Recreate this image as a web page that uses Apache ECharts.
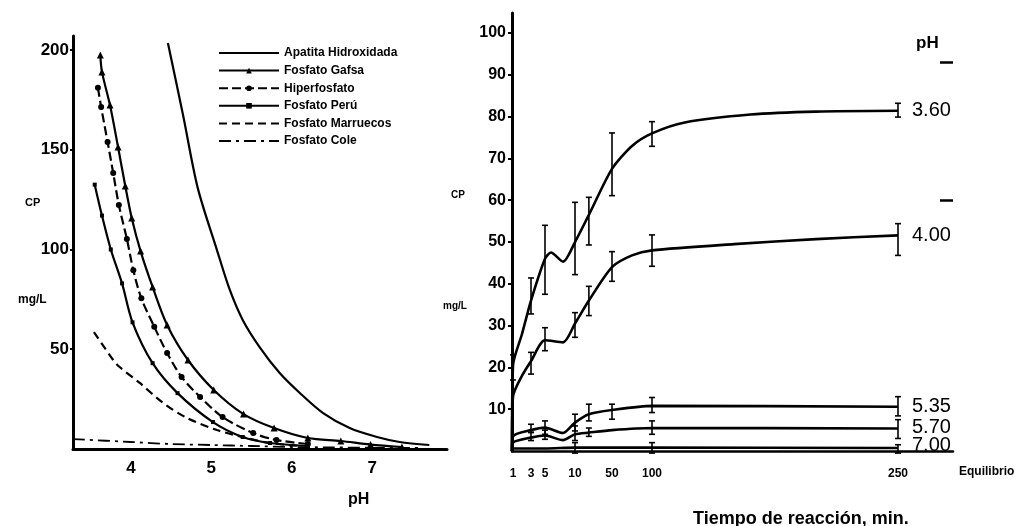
<!DOCTYPE html>
<html><head><meta charset="utf-8">
<script src="https://cdn.jsdelivr.net/npm/echarts@6/dist/echarts.min.js"></script>
<style>html,body{margin:0;padding:0;background:#fff}#c{width:1019px;height:526px}</style>
</head><body><div id="c"></div>
<script>
// ---------------- Left panel: CP (mg/L) vs pH ----------------
const phTicks = [4, 5, 6, 7];
const cpTicksLeft = [50, 100, 150, 200];
const apatitaHidroxidada = [[4.46,203.5],[4.65,167],[4.83,131],[5.07,99.7],[5.23,79.7],[5.39,64.7],[5.60,51.1],[5.85,38.1],[6.10,28.1],[6.39,18],[6.72,10.5],[7.06,6],[7.34,3.5],[7.71,2]];
const fosfatoGafsa = [[3.62,197.5],[3.64,189],[3.74,172.4],[3.84,151.4],[3.93,131.8],[4.01,115.8],[4.12,99.2],[4.27,81.2],[4.45,62.2],[4.71,44.6],[5.03,29.6],[5.40,17.5],[5.78,10.5],[6.20,5.5],[6.61,4],[6.98,2.2],[7.37,1]];
const hiperfosfato = [[3.59,181],[3.63,171.4],[3.71,153.9],[3.78,138.3],[3.85,122.3],[3.95,105.3],[4.03,89.6],[4.13,75.5],[4.29,61.3],[4.45,48.1],[4.63,36.1],[4.86,26.1],[5.14,16],[5.52,8],[5.81,4.5],[6.2,2.5]];
const fosfatoPeru = [[3.55,132.5],[3.64,117],[3.75,100],[3.89,83],[4.02,63.5],[4.27,43],[4.58,28],[5.02,13.5],[5.39,6],[5.73,3],[6.2,1.5]];
const fosfatoMarruecos = [[3.54,58.6],[3.78,44.6],[3.86,41.1],[4.11,33.1],[4.40,23.1],[4.70,15.5],[5.07,9.5],[5.44,5.5],[5.73,3],[6.1,1.5]];
const fosfatoCole = [[3.28,5],[4.0,3.5],[4.5,2.5],[5.0,2],[5.5,1.5],[6.0,1],[6.5,0.8],[7.0,0.6],[7.6,0.5]];

// ---------------- Right panel: CP (mg/L) vs reaction time ----------------
const timeTicks = [1, 3, 5, 10, 50, 100, 250];
const cpTicksRight = [10, 20, 30, 40, 50, 60, 70, 80, 90, 100];
const ph360 = [[0,0],[1,20.5],[2,28],[3,36],[5,46],[6,47.5],[8,45.3],[10,50],[25,56.5],[50,67.5],[75,73],[100,76],[120,78.6],[160,80.5],[200,81.2],[250,81.4]];
const ph400 = [[0,0],[1,13],[2,18],[3,21.5],[5,26.5],[8,26],[10,30.5],[25,36],[50,44],[75,46.8],[100,48],[150,49.5],[200,50.7],[250,51.6]];
const ph535 = [[0,0],[1,3.5],[3,5],[5,5.6],[8,4.3],[10,6.8],[25,8.8],[50,9.8],[100,10.8],[250,10.6]];
const ph570 = [[0,0],[1,2],[3,3.2],[5,3.7],[8,2.6],[10,4],[25,4.4],[50,5],[100,5.5],[250,5.4]];
const ph700 = [[0,0],[1,0.6],[3,0.6],[5,0.6],[10,0.8],[25,0.8],[50,0.8],[100,0.8],[250,0.7]];
const err360 = [[1,17,23],[3,32.8,41.4],[5,37.5,54],[10,42.2,59.5],[25,49.3,60.7],[50,61.1,76.1],[100,72.9,78.8],[250,79.9,83.2]];
const err400 = [[3,18.4,23.6],[5,24,29.5],[10,27.2,33.1],[25,32.4,39.4],[50,40.6,47.7],[100,44.2,51.7],[250,46.8,54.4]];
const err535 = [[3,4.4,6.4],[5,4,7.2],[10,4.8,8.8],[25,7.2,11.2],[50,7.6,11.2],[100,9.2,12.8],[250,8.4,13]];
const err570 = [[3,2.5,4.5],[5,2.8,5],[10,2.5,6],[25,3.5,5.5],[100,4,7.2],[250,3,7.5]];
const err700 = [[10,-0.5,2],[100,-0.5,2],[250,-0.5,1.5]];
const equilibriumCP = [93, 60];

// hand-drawn (non-uniform) time axis of the original: piecewise-linear scale
const timeDomain = [0, 1, 3, 5, 10, 50, 100, 250];
const timeRange  = [0, 1, 19, 33, 63, 100, 140, 386];
function tx(t) {
  for (let i = 1; i < timeDomain.length; i++) {
    if (t <= timeDomain[i]) {
      const f = (t - timeDomain[i-1]) / (timeDomain[i] - timeDomain[i-1]);
      return timeRange[i-1] + f * (timeRange[i] - timeRange[i-1]);
    }
  }
  return timeRange[timeRange.length-1];
}
const tickLabelMap = {};
timeTicks.forEach(t => { tickLabelMap[tx(t).toFixed(3)] = String(t); });

const FONT = 'Liberation Sans';
const K = '#000';

function errRender(params, api) {
  const x = api.value(0), lo = api.value(1), hi = api.value(2);
  const p1 = api.coord([x, lo]), p2 = api.coord([x, hi]);
  const w = 3, st = {stroke: K, lineWidth: 1.6};
  return {type: 'group', children: [
    {type: 'line', shape: {x1: p1[0], y1: p1[1], x2: p2[0], y2: p2[1]}, style: st},
    {type: 'line', shape: {x1: p1[0]-w, y1: p1[1], x2: p1[0]+w, y2: p1[1]}, style: st},
    {type: 'line', shape: {x1: p2[0]-w, y1: p2[1], x2: p2[0]+w, y2: p2[1]}, style: st}
  ]};
}
function errSeries(arr) {
  return {type: 'custom', xAxisIndex: 1, yAxisIndex: 1, renderItem: errRender,
    data: arr.map(d => [tx(d[0]), d[1], d[2]]), silent: true, z: 3};
}
function endLbl(dy) {
  return {show: true, formatter: '{a}', distance: 14, fontSize: 20, color: K, fontFamily: FONT, offset: [0, dy || 0]};
}
function curve(name, arr, dy) {
  return {type: 'line', name, xAxisIndex: 1, yAxisIndex: 1, smooth: 0.25,
    showSymbol: false, data: arr.map(d => [tx(d[0]), d[1]]),
    lineStyle: {color: K, width: 2.6}, endLabel: endLbl(dy)};
}
function leftLine(name, data, lineType, symbol, size, width) {
  return {type: 'line', name, xAxisIndex: 0, yAxisIndex: 0, data, smooth: 0.3,
    showSymbol: symbol !== 'none', symbol, symbolSize: size,
    itemStyle: {color: K}, lineStyle: {color: K, width: width || 2.2, type: lineType}};
}

const chart = echarts.init(document.getElementById('c'), null, {renderer: 'canvas'});
chart.setOption({
  animation: false,
  backgroundColor: '#fff',
  textStyle: {fontFamily: FONT, color: K},
  title: [
    {text: 'CP', left: 20, top: 192, textStyle: {fontSize: 11, fontWeight: 'bold', color: K, fontFamily: FONT}},
    {text: 'mg/L', left: 13, top: 289, textStyle: {fontSize: 12, fontWeight: 'bold', color: K, fontFamily: FONT}},
    {text: 'pH', left: 343, top: 487, textStyle: {fontSize: 16, fontWeight: 'bold', color: K, fontFamily: FONT}},
    {text: 'CP', left: 446, top: 185, textStyle: {fontSize: 10, fontWeight: 'bold', color: K, fontFamily: FONT}},
    {text: 'mg/L', left: 438, top: 296, textStyle: {fontSize: 10, fontWeight: 'bold', color: K, fontFamily: FONT}},
    {text: 'pH', left: 911, top: 30, textStyle: {fontSize: 17, fontWeight: 'bold', color: K, fontFamily: FONT}},
    {text: 'Tiempo de reacción, min.', left: 688, top: 505, textStyle: {fontSize: 18, fontWeight: 'bold', color: K, fontFamily: FONT}}
  ],
  legend: {
    orient: 'vertical', left: 213, top: 42, itemWidth: 60, itemHeight: 7, itemGap: 5.6,
    textStyle: {fontSize: 12, fontWeight: 'bold', color: K, fontFamily: FONT},
    data: [
      {name: 'Apatita Hidroxidada', itemStyle: {opacity: 0}},
      {name: 'Fosfato Gafsa'},
      {name: 'Hiperfosfato'},
      {name: 'Fosfato Perú'},
      {name: 'Fosfato Marruecos', itemStyle: {opacity: 0}},
      {name: 'Fosfato Cole', itemStyle: {opacity: 0}}
    ]
  },
  grid: [
    {left: 73, top: 36, width: 374, height: 413, containLabel: false},
    {left: 512, top: 13, width: 441, height: 438, containLabel: false}
  ],
  xAxis: [
    {gridIndex: 0, type: 'value', min: 3.28, max: 7.93,
      axisLine: {lineStyle: {color: K, width: 3}}, axisTick: {show: false},
      splitLine: {show: false},
      axisLabel: {customValues: phTicks, fontSize: 17, fontWeight: 'bold', color: K, margin: 11, fontFamily: FONT}},
    {gridIndex: 1, type: 'value', min: 0, max: 441,
      axisLine: {lineStyle: {color: K, width: 2.5}}, axisTick: {show: false},
      splitLine: {show: false},
      axisLabel: {customValues: timeTicks.map(tx), fontSize: 12, fontWeight: 'bold', color: K, margin: 17, fontFamily: FONT,
        formatter: v => tickLabelMap[Number(v).toFixed(3)] || ''},
      name: 'Equilibrio', nameLocation: 'end', nameGap: 6,
      nameTextStyle: {fontSize: 12, fontWeight: 'bold', color: K, verticalAlign: 'top', padding: [15, 0, 0, 0], fontFamily: FONT}}
  ],
  yAxis: [
    {gridIndex: 0, type: 'value', min: 0, max: 207,
      axisLine: {lineStyle: {color: K, width: 3}},
      axisTick: {customValues: cpTicksLeft, length: 3, lineStyle: {color: K, width: 2}},
      splitLine: {show: false},
      axisLabel: {customValues: cpTicksLeft, fontSize: 17, fontWeight: 'bold', color: K, margin: 4, fontFamily: FONT}},
    {gridIndex: 1, type: 'value', min: 0, max: 104.8,
      axisLine: {lineStyle: {color: K, width: 3}},
      axisTick: {customValues: cpTicksRight, length: 4, lineStyle: {color: K, width: 2}},
      splitLine: {show: false},
      axisLabel: {customValues: cpTicksRight, fontSize: 16, fontWeight: 'bold', color: K, margin: 6, fontFamily: FONT}},
    {gridIndex: 1, type: 'value', min: 0, max: 104.8, position: 'right',
      axisLine: {show: false}, axisLabel: {show: false}, splitLine: {show: false},
      axisTick: {show: true, inside: true, length: 13, customValues: equilibriumCP, lineStyle: {color: K, width: 2.5}}}
  ],
  series: [
    leftLine('Apatita Hidroxidada', apatitaHidroxidada, 'solid', 'none', 0, 2.2),
    leftLine('Fosfato Gafsa', fosfatoGafsa, 'solid', 'triangle', 7),
    leftLine('Hiperfosfato', hiperfosfato, [9, 4], 'circle', 6),
    leftLine('Fosfato Perú', fosfatoPeru, 'solid', 'rect', 4),
    leftLine('Fosfato Marruecos', fosfatoMarruecos, [8, 5], 'none', 0),
    leftLine('Fosfato Cole', fosfatoCole, [12, 5, 3, 5], 'none', 0, 1.8),
    curve('3.60', ph360),
    curve('4.00', ph400),
    curve('5.35', ph535),
    curve('5.70', ph570, -1),
    curve('7.00', ph700, -3),
    errSeries(err360), errSeries(err400), errSeries(err535), errSeries(err570), errSeries(err700)
  ]
});
</script></body></html>
